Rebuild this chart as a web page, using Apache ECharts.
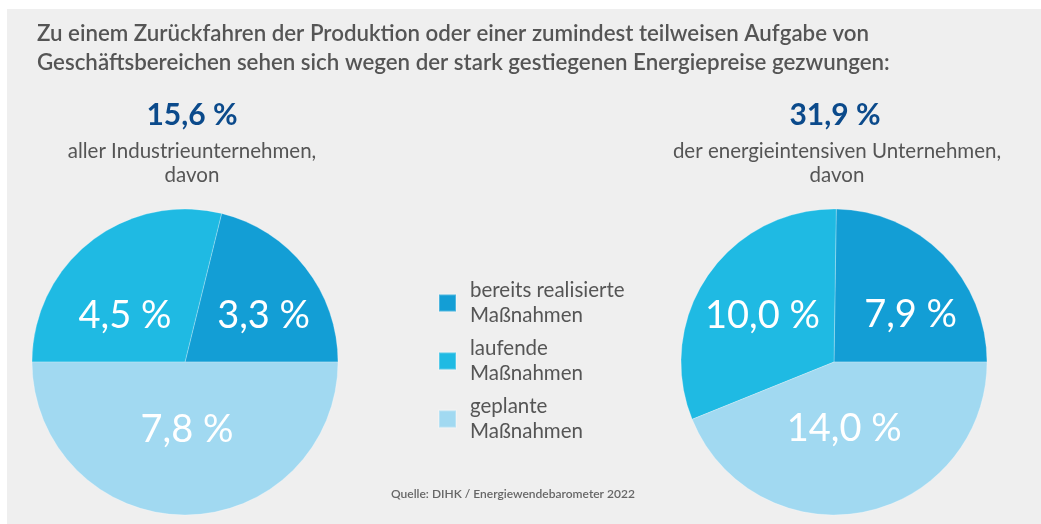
<!DOCTYPE html>
<html><head><meta charset="utf-8">
<script src="https://cdn.jsdelivr.net/npm/echarts@6/dist/echarts.min.js"></script>
<style>html,body{margin:0;padding:0;background:#fff;}#c{width:1041px;height:524px;}</style>
</head><body><div id="c"></div>
<script>
const categories = ['bereits realisierte Maßnahmen', 'laufende Maßnahmen', 'geplante Maßnahmen'];
const valuesAll = [3.3, 4.5, 7.8];
const valuesEnergy = [7.9, 10.0, 14.0];
const totals = ['15,6 %', '31,9 %'];
const groupLabels = ['aller Industrieunternehmen,\ndavon', 'der energieintensiven Unternehmen,\ndavon'];
const titleText = 'Zu einem Zurückfahren der Produktion oder einer zumindest teilweisen Aufgabe von\nGeschäftsbereichen sehen sich wegen der stark gestiegenen Energiepreise gezwungen:';
const sourceText = 'Quelle: DIHK / Energiewendebarometer 2022';

const colors = ['#139ed5', '#1fbae3', '#a1d9f1'];
const FONT = 'Lato';
const offsetsLeft = [[16, 3], [-11, 16], [2, -12]];
const offsetsRight = [[20, 9], [-6, -1], [-5, -11]];

function fmt(v) { return v.toFixed(1).replace('.', ',') + ' %'; }

function pie(values, center, offs) {
  return {
    type: 'pie', center: center, radius: 153, startAngle: 0, clockwise: false,
    silent: true, animation: false,
    itemStyle: { borderColor: 'rgba(255,255,255,0.25)', borderWidth: 1 },
    label: { position: 'inside', color: '#fff', fontFamily: FONT, fontSize: 38,
      formatter: p => fmt(p.value) },
    labelLine: { show: false },
    labelLayout: p => ({ dx: offs[p.dataIndex][0], dy: offs[p.dataIndex][1] }),
    data: categories.map((c, i) => ({ name: c, value: values[i] }))
  };
}

const chart = echarts.init(document.getElementById('c'));
chart.setOption({
  color: colors,
  animation: false,
  graphic: [{ type: 'rect', z: -10, silent: true, shape: { x: 7, y: 9, width: 1034, height: 515 }, style: { fill: '#efefef' } }],
  title: [
    { text: titleText, left: 32, top: 14, textStyle: { fontFamily: FONT, fontSize: 22.3, fontWeight: 600, color: '#555', lineHeight: 29 } },
    { text: totals[0], left: 187, top: 95, textAlign: 'center', textStyle: { fontFamily: FONT, fontSize: 30, fontWeight: 'bold', color: '#0b4a8b' } },
    { text: groupLabels[0], left: 187, top: 134, textAlign: 'center', textStyle: { fontFamily: FONT, fontSize: 20.5, fontWeight: 'normal', color: '#555', lineHeight: 24, align: 'center' } },
    { text: totals[1], left: 830, top: 95, textAlign: 'center', textStyle: { fontFamily: FONT, fontSize: 30, fontWeight: 'bold', color: '#0b4a8b' } },
    { text: groupLabels[1], left: 832, top: 134, textAlign: 'center', textStyle: { fontFamily: FONT, fontSize: 20.5, fontWeight: 'normal', color: '#555', lineHeight: 24, align: 'center' } },
    { text: sourceText, left: 386, top: 483, textStyle: { fontFamily: FONT, fontSize: 12, fontWeight: 600, color: '#666' } }
  ],
  legend: {
    orient: 'vertical', left: 433, top: 273, itemWidth: 17, itemHeight: 17, itemGap: 8,
    icon: 'rect', selectedMode: false, data: categories,
    formatter: n => n.replace(' Maßnahmen', '\nMaßnahmen'),
    textStyle: { fontFamily: FONT, fontSize: 20.5, color: '#555', lineHeight: 25, padding: [0, 0, 0, 9] }
  },
  series: [pie(valuesAll, [185, 362], offsetsLeft), pie(valuesEnergy, [834, 362], offsetsRight)]
});
</script></body></html>
